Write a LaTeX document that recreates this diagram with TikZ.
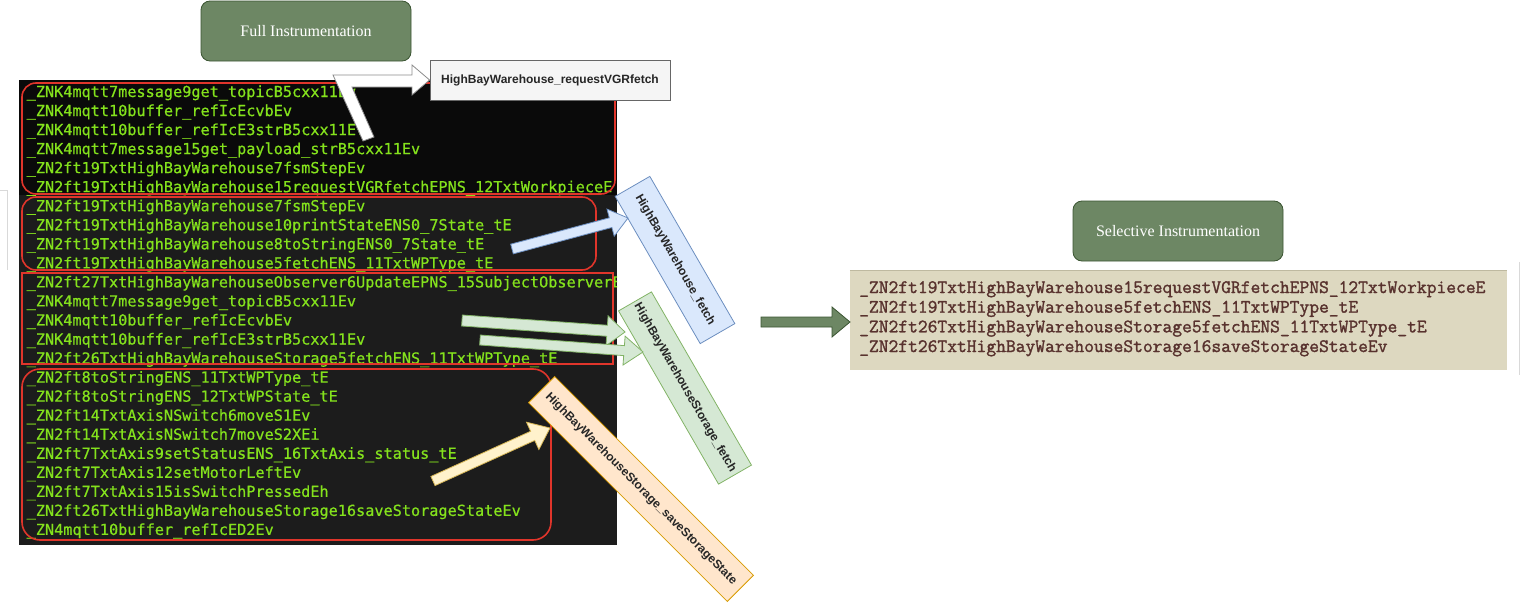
\documentclass[tikz,border=0pt]{standalone}
\usepackage{fontspec}
\setmainfont{Liberation Serif}
\newfontfamily\lsans{Liberation Sans}
\newfontfamily\dmono[FakeBold=0.6]{DejaVu Sans Mono}
\newfontfamily\lmono[FakeBold=1.5]{Latin Modern Mono}
\usetikzlibrary{calc}
\definecolor{boxgreen}{HTML}{6D8764}
\definecolor{boxborder}{HTML}{3A5431}
\definecolor{codegreen}{RGB}{132,226,28}
\definecolor{groupred}{HTML}{E0352B}
\definecolor{panelbg}{RGB}{28,28,28}
\definecolor{paneltop}{RGB}{10,10,10}
\definecolor{bluefill}{HTML}{DAE8FC}
\definecolor{blueline}{HTML}{6C8EBF}
\definecolor{greenfill}{HTML}{D5E8D4}
\definecolor{greenline}{HTML}{82B366}
\definecolor{orangefill}{HTML}{FFE6CC}
\definecolor{orangeline}{HTML}{D79B00}
\definecolor{yellowfill}{HTML}{FFF2CC}
\definecolor{yellowline}{HTML}{D6B656}
\definecolor{beige}{RGB}{221,216,192}
\definecolor{beigeline}{RGB}{190,185,160}
\definecolor{seltext}{RGB}{88,50,46}
\definecolor{calloutfill}{HTML}{F5F5F5}
\definecolor{calloutline}{HTML}{666666}
\newcommand\blkarrow[6]{%
  \coordinate (#2-hb) at ($(#3)!#6!(#2)$);
  \draw[#1] ($(#2)!#4!90:(#3)$) -- ($(#2-hb)!#4!-90:(#2)$) -- ($(#2-hb)!#5!-90:(#2)$) -- (#3)
    -- ($(#2-hb)!#5!90:(#2)$) -- ($(#2-hb)!#4!90:(#2)$) -- ($(#2)!#4!-90:(#3)$) -- cycle;}
\begin{document}
\begin{tikzpicture}[x=1pt,y=-1pt,
  greenbox/.style={draw=boxborder, fill=boxgreen, rounded corners=9pt, line width=0.8pt,
    text=white, font=\fontsize{16}{18}\selectfont, minimum width=210pt, minimum height=60pt, inner sep=0pt},
  codeline/.style={anchor=base west, inner sep=0pt, text=codegreen, font=\dmono\fontsize{15.2}{18}\selectfont},
  selline/.style={anchor=base west, inner sep=0pt, text=seltext, font=\lmono\fontsize{19}{20}\selectfont},
  redgroup/.style={draw=groupred, line width=1.6pt},
  tagbox/.style={line width=0.8pt, inner sep=0pt, text=black!85,
    font=\lsans\bfseries\fontsize{12}{14}\selectfont},
  blkarr/.style={line width=0.8pt, line join=miter}
]
\useasboundingbox (0,0) rectangle (1521,605);
% faint edge artefacts
\draw[black!15, line width=0.8pt] (0,190) -- (7,190) -- (7,270);
\draw[black!15, line width=0.8pt] (1519,262) -- (1519,375);

% full instrumentation
\node[greenbox] (full) at (306,31) {Full Instrumentation};

% dark panel
\fill[panelbg] (19,80) rectangle (617,545);
\fill[paneltop] (19,80) rectangle (617,195);
\begin{scope}
\clip (19,80) rectangle (617,545);
\foreach \t [count=\i] in {
 \_ZNK4mqtt7message9get\_topicB5cxx11Ev,
 \_ZNK4mqtt10buffer\_refIcEcvbEv,
 \_ZNK4mqtt10buffer\_refIcE3strB5cxx11Ev,
 \_ZNK4mqtt7message15get\_payload\_strB5cxx11Ev,
 \_ZN2ft19TxtHighBayWarehouse7fsmStepEv,
 \_ZN2ft19TxtHighBayWarehouse15requestVGRfetchEPNS\_12TxtWorkpieceE,
 \_ZN2ft19TxtHighBayWarehouse7fsmStepEv,
 \_ZN2ft19TxtHighBayWarehouse10printStateENS0\_7State\_tE,
 \_ZN2ft19TxtHighBayWarehouse8toStringENS0\_7State\_tE,
 \_ZN2ft19TxtHighBayWarehouse5fetchENS\_11TxtWPType\_tE,
 \_ZN2ft27TxtHighBayWarehouseObserver6UpdateEPNS\_15SubjectObserverE,
 \_ZNK4mqtt7message9get\_topicB5cxx11Ev,
 \_ZNK4mqtt10buffer\_refIcEcvbEv,
 \_ZNK4mqtt10buffer\_refIcE3strB5cxx11Ev,
 \_ZN2ft26TxtHighBayWarehouseStorage5fetchENS\_11TxtWPType\_tE,
 \_ZN2ft8toStringENS\_11TxtWPType\_tE,
 \_ZN2ft8toStringENS\_12TxtWPState\_tE,
 \_ZN2ft14TxtAxisNSwitch6moveS1Ev,
 \_ZN2ft14TxtAxisNSwitch7moveS2XEi,
 \_ZN2ft7TxtAxis9setStatusENS\_16TxtAxis\_status\_tE,
 \_ZN2ft7TxtAxis12setMotorLeftEv,
 \_ZN2ft7TxtAxis15isSwitchPressedEh,
 \_ZN2ft26TxtHighBayWarehouseStorage16saveStorageStateEv,
 \_ZN4mqtt10buffer\_refIcED2Ev}
 \node[codeline] (c\i) at (26.5,{97+19.04*(\i-1)}) {\t};
\end{scope}

% red groups
\draw[redgroup, rounded corners=14pt] (22,83) rectangle (615,194);
\draw[redgroup, rounded corners=14pt] (22,197) rectangle (596,270);
\draw[redgroup] (22,273) rectangle (613,364);
\draw[redgroup, rounded corners=18pt] (22,369) rectangle (551,540);

% callout and rotated tags
\node[tagbox, draw=calloutline, fill=calloutfill, minimum width=240pt, minimum height=40pt]
  (req) at (550,80) {HighBayWarehouse\_requestVGRfetch};
\node[tagbox, draw=blueline, fill=bluefill, rotate=-60, minimum width=170pt, minimum height=40pt]
  (hbf) at (675,260) {HighBayWarehouse\_fetch};
\node[tagbox, draw=greenline, fill=greenfill, rotate=-60, minimum width=200pt, minimum height=38pt]
  (hbsf) at (685,388) {HighBayWarehouseStorage\_fetch};
\node[tagbox, draw=orangeline, fill=orangefill, rotate=-45, minimum width=281pt, minimum height=37pt]
  (hbss) at (641,489) {HighBayWarehouseStorage\_saveStorageState};

% white bent arrow to callout
\draw[blkarr, draw=black!45, fill=white] (333,75) -- (412,75) -- (412,65) -- (req.west) -- (412,95)
  -- (412,87) -- (352,87) -- (374,137) -- (363,141) -- cycle;

% block arrows
\coordinate (bt) at (512,249); \coordinate (bh) at (628,218);
\blkarrow{blkarr, draw=blueline, fill=bluefill}{bt}{bh}{5pt}{14pt}{18pt}
\coordinate (g1t) at (462,320.5); \coordinate (g1h) at (625,332);
\blkarrow{blkarr, draw=greenline, fill=greenfill}{g1t}{g1h}{5.5pt}{15pt}{18pt}
\coordinate (g2t) at (480,340); \coordinate (g2h) at (643,352);
\blkarrow{blkarr, draw=greenline, fill=greenfill}{g2t}{g2h}{5pt}{14.5pt}{19pt}
\coordinate (yt) at (433,481); \coordinate (yh) at (550,428);
\blkarrow{blkarr, draw=yellowline, fill=yellowfill}{yt}{yh}{5pt}{15pt}{19pt}

% selective instrumentation
\node[greenbox] (sel) at (1178,231) {Selective Instrumentation};
\node[fill=beige, minimum width=657pt, minimum height=99pt, inner sep=0pt] (selpanel) at (1178.5,320.5) {};
\draw[beigeline, line width=0.8pt] (selpanel.north west) -- (selpanel.north east);
\foreach \t [count=\i] in {
 \_ZN2ft19TxtHighBayWarehouse15requestVGRfetchEPNS\_12TxtWorkpieceE,
 \_ZN2ft19TxtHighBayWarehouse5fetchENS\_11TxtWPType\_tE,
 \_ZN2ft26TxtHighBayWarehouseStorage5fetchENS\_11TxtWPType\_tE,
 \_ZN2ft26TxtHighBayWarehouseStorage16saveStorageStateEv}
 \node[selline] (s\i) at (859,{293+19.67*(\i-1)}) {\t};

\coordinate (dgt) at (761,322); \coordinate (dgh) at (850,322);
\blkarrow{blkarr, draw=boxborder, fill=boxgreen}{dgt}{dgh}{5pt}{15pt}{18pt}
\end{tikzpicture}
\end{document}
